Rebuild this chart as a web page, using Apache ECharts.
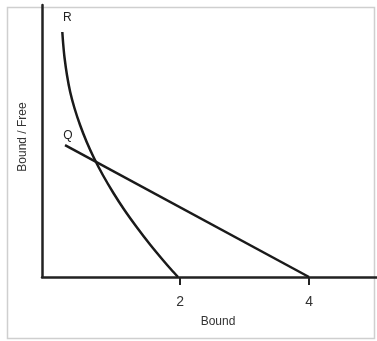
<!DOCTYPE html>
<html>
<head>
<meta charset="utf-8">
<script src="https://cdn.jsdelivr.net/npm/echarts@6/dist/echarts.min.js"></script>
<style>
html,body{margin:0;padding:0;background:#fff;}
#chart{width:377px;height:341px;}
</style>
</head>
<body>
<div id="chart"></div>
<script>
// Data
var xTickValues = [2, 4];
var xAxisName = 'Bound';
var yAxisName = 'Bound / Free';
var seriesNames = ['R', 'Q'];
var rX = [0.175, 0.190, 0.210, 0.247, 0.297, 0.363, 0.450, 0.553, 0.666, 0.803, 0.967, 1.138, 1.327, 1.529, 1.734, 1.869, 1.969];
var rY = [9.007, 8.529, 8.051, 7.426, 6.801, 6.213, 5.588, 4.963, 4.375, 3.750, 3.088, 2.463, 1.838, 1.213, 0.625, 0.257, 0];
var qX = [0.217, 4];
var qY = [4.85, 0];

var FONT = 'Liberation Sans, Arial, sans-serif';

function pairs(xs, ys, label, offset) {
  return xs.map(function (x, i) {
    var item = { value: [x, ys[i]] };
    if (i === 0) {
      item.label = {
        show: true, formatter: label, position: 'top', distance: 5, offset: offset,
        fontFamily: FONT, fontSize: 12, color: '#222'
      };
    }
    return item;
  });
}

var chart = echarts.init(document.getElementById('chart'), null, { renderer: 'canvas' });
chart.setOption({
  animation: false,
  backgroundColor: '#fff',
  graphic: [{
    type: 'rect', z: -10, silent: true,
    shape: { x: 7.5, y: 7.5, width: 367, height: 331 },
    style: { fill: '#fff', stroke: '#cfcfcf', lineWidth: 1.5 }
  }],
  grid: { left: 42, top: 5, right: 0, bottom: 64, containLabel: false },
  xAxis: {
    type: 'value', min: -0.14, max: 5.054,
    name: xAxisName, nameLocation: 'middle', nameGap: 39,
    nameTextStyle: { fontFamily: FONT, fontSize: 12, color: '#333', padding: [0, 0, 0, 17] },
    axisLine: { onZero: false, lineStyle: { color: '#222', width: 2.5 } },
    axisTick: { show: true, customValues: xTickValues, length: 8, lineStyle: { color: '#222', width: 2 } },
    axisLabel: { show: true, customValues: xTickValues, margin: 18, fontFamily: FONT, fontSize: 14, color: '#333' },
    splitLine: { show: false }
  },
  yAxis: {
    type: 'value', min: 0, max: 10,
    name: yAxisName, nameLocation: 'middle', nameGap: 13,
    nameTextStyle: { fontFamily: FONT, fontSize: 12, color: '#333', padding: [0, 0, 0, 8] },
    axisLine: { show: true, onZero: false, lineStyle: { color: '#222', width: 2.5 } },
    axisTick: { show: false },
    axisLabel: { show: false },
    splitLine: { show: false }
  },
  series: [
    {
      name: seriesNames[0], type: 'line', smooth: 0.3, symbol: 'circle', symbolSize: 1, showSymbol: true,
      itemStyle: { color: 'rgba(0,0,0,0)' },
      lineStyle: { color: '#1a1a1a', width: 2.5 },
      data: pairs(rX, rY, seriesNames[0], [5, -3])
    },
    {
      name: seriesNames[1], type: 'line', symbol: 'circle', symbolSize: 1, showSymbol: true,
      itemStyle: { color: 'rgba(0,0,0,0)' },
      lineStyle: { color: '#1a1a1a', width: 2.5 },
      data: pairs(qX, qY, seriesNames[1], [3, 2])
    }
  ]
});
</script>
</body>
</html>
